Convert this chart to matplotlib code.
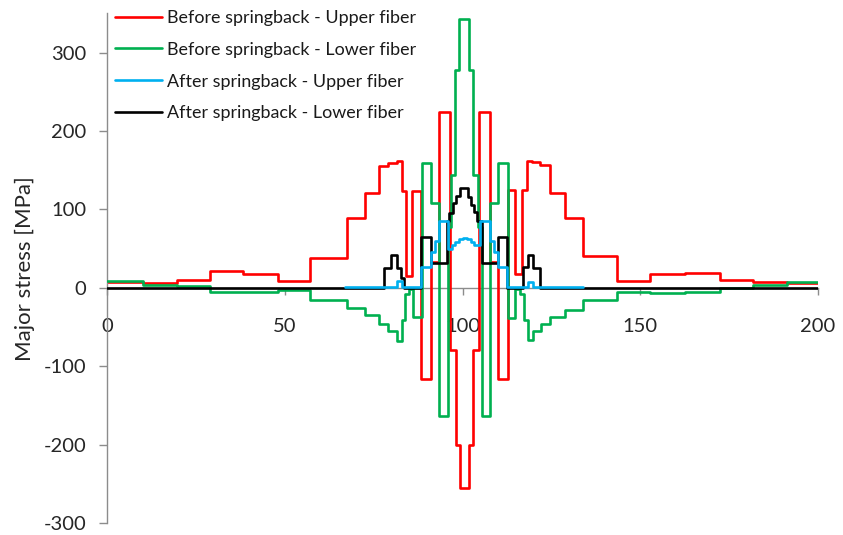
import matplotlib
matplotlib.use("Agg")
import matplotlib.pyplot as plt

# ---- data (step breakpoints: x where a level starts, level value) ----
red_x = [0, 10.2, 19.6, 29.0, 38.3, 48.2, 57.1, 67.4, 72.6, 76.6, 79.1, 81.5, 82.9,
         84.1, 85.7, 88.4, 91.0, 93.4, 96.4, 98.3, 99.3, 101.9, 103.0, 104.6, 107.7,
         110.1, 112.8, 114.8, 116.6, 118.2, 119.6, 121.8, 124.6, 128.8, 134.0, 143.4,
         152.7, 162.6, 172.4, 181.8, 191.2, 200]
red_y = [7, 6, 10, 21, 17, 8, 38, 89, 121, 155, 159, 162, 124,
         15, 124, -117, 33, 224, -79, -200, -256, -200, -79, 224, 33,
         -117, 125, 17, 125, 162, 160, 157, 121, 89, 40, 8,
         17, 19, 10, 7, 6]

green_x = [0, 10.2, 19.6, 29.0, 38.3, 48.2, 57.1, 67.4, 72.6, 76.6, 79.1, 81.5, 82.9,
           83.9, 85.0, 86.2, 88.5, 91.0, 93.3, 96.0, 96.9, 97.9, 99.1, 101.7, 103.0,
           104.4, 105.4, 107.8, 110.1, 112.7, 114.9, 116.2, 117.3, 118.4, 119.7, 122.0,
           124.6, 128.8, 134.0, 143.4, 152.7, 162.6, 172.4, 181.8, 191.2, 200]
green_y = [8, 4, 2, -5, -6, -3, -15, -26, -35, -46, -55, -68, -41,
           -8, -2, -37, 159, 108, -164, 78, 144, 278, 343, 278, 144,
           78, -164, 108, 159, -38, -2, -8, -41, -67, -55, -46,
           -37, -28, -15, -5, -7, -6, 0, 3, 7]

blue_x = [67.0, 81.5, 83.0, 88.4, 91.0, 92.2, 93.3, 96.0, 97.0, 98.0, 99.0, 100.0,
          101.3, 102.3, 103.3, 104.8, 107.7, 108.9, 110.1, 112.6, 118.3, 119.7, 134.0]
blue_y = [1.5, 8, 1.5, 27, 45, 60, 85, 50, 54, 58, 62, 64,
          62, 58, 54, 85, 60, 45, 27, 1.5, 7, 1.5]

black_x = [0, 78.0, 80.0, 81.5, 82.6, 83.6, 88.3, 91.0, 95.6, 96.3, 97.2, 98.3, 99.3,
           101.6, 102.4, 103.2, 104.0, 105.4, 110.1, 112.5, 117.1, 118.5, 119.9, 121.8, 200]
black_y = [0, 25, 42, 25, 12, 0, 65, 31, 85, 95, 108, 117, 127,
           116, 106, 96, 85, 31, 65, 0, 27, 42, 25, 0]

labels = ["Before springback - Upper fiber", "Before springback - Lower fiber",
          "After springback - Upper fiber", "After springback - Lower fiber"]
colors = ["#FF0000", "#00B050", "#00B0F0", "#000000"]

x_ticks = [0, 50, 100, 150, 200]
y_ticks = [-300, -200, -100, 0, 100, 200, 300]

plt.rcParams['font.family'] = ['Lato', 'DejaVu Sans']
plt.rcParams['axes.unicode_minus'] = False

W, H = 843, 535
fig = plt.figure(figsize=(W / 100, H / 100), dpi=100)
ax = fig.add_axes([107 / W, 1 - 523 / H, (818 - 107) / W, (523 - 13.3) / H])


def step_vals(xs, ys):
    return xs, list(ys) + [ys[-1]]


lw = 1.9
series = [(red_x, red_y), (green_x, green_y), (black_x, black_y), (blue_x, blue_y)]
order_cols = [colors[0], colors[1], colors[3], colors[2]]
order_labels = [labels[0], labels[1], labels[3], labels[2]]
handles = {}
for (xs, ys), c, lab, z in zip(series, order_cols, order_labels, [2, 3, 4, 5]):
    sx, sy = step_vals(xs, ys)
    ln, = ax.step(sx, sy, where='post', color=c, lw=lw, label=lab, zorder=z,
                  solid_joinstyle='round', solid_capstyle='round')
    handles[lab] = ln

ax.set_xlim(0, 200)
ax.set_ylim(-300, 350)
ax.set_xticks(x_ticks)
ax.set_yticks(y_ticks)

for s in ['top', 'right']:
    ax.spines[s].set_visible(False)
ax.spines['bottom'].set_position(('data', 0))
for s in ['left', 'bottom']:
    ax.spines[s].set_color('#8C8C8C')
    ax.spines[s].set_linewidth(1.0)
ax.spines['bottom'].set_zorder(1)

ax.tick_params(axis='x', direction='out', length=5, width=1.0, color='#8C8C8C',
               pad=17, labelsize=14.5, labelcolor='#262626')
ax.tick_params(axis='y', direction='out', length=6, width=1.0, color='#8C8C8C',
               pad=9, labelsize=14.5, labelcolor='#262626')

ax.set_ylabel("Major stress [MPa]", fontsize=16, color='#262626', va='center')
ax.yaxis.set_label_coords(-(107 - 25) / (818 - 107), 0.5)

leg = ax.legend([handles[l] for l in labels], labels, loc='upper left',
                bbox_to_anchor=(115 / W, 1 - 10 / H), bbox_transform=fig.transFigure,
                frameon=False, fontsize=12.9, handlelength=2.6, handletextpad=0.3,
                labelspacing=0.88, borderpad=0, borderaxespad=0)
for t in leg.get_texts():
    t.set_color('#1a1a1a')

fig.savefig("out.png", dpi=100)
